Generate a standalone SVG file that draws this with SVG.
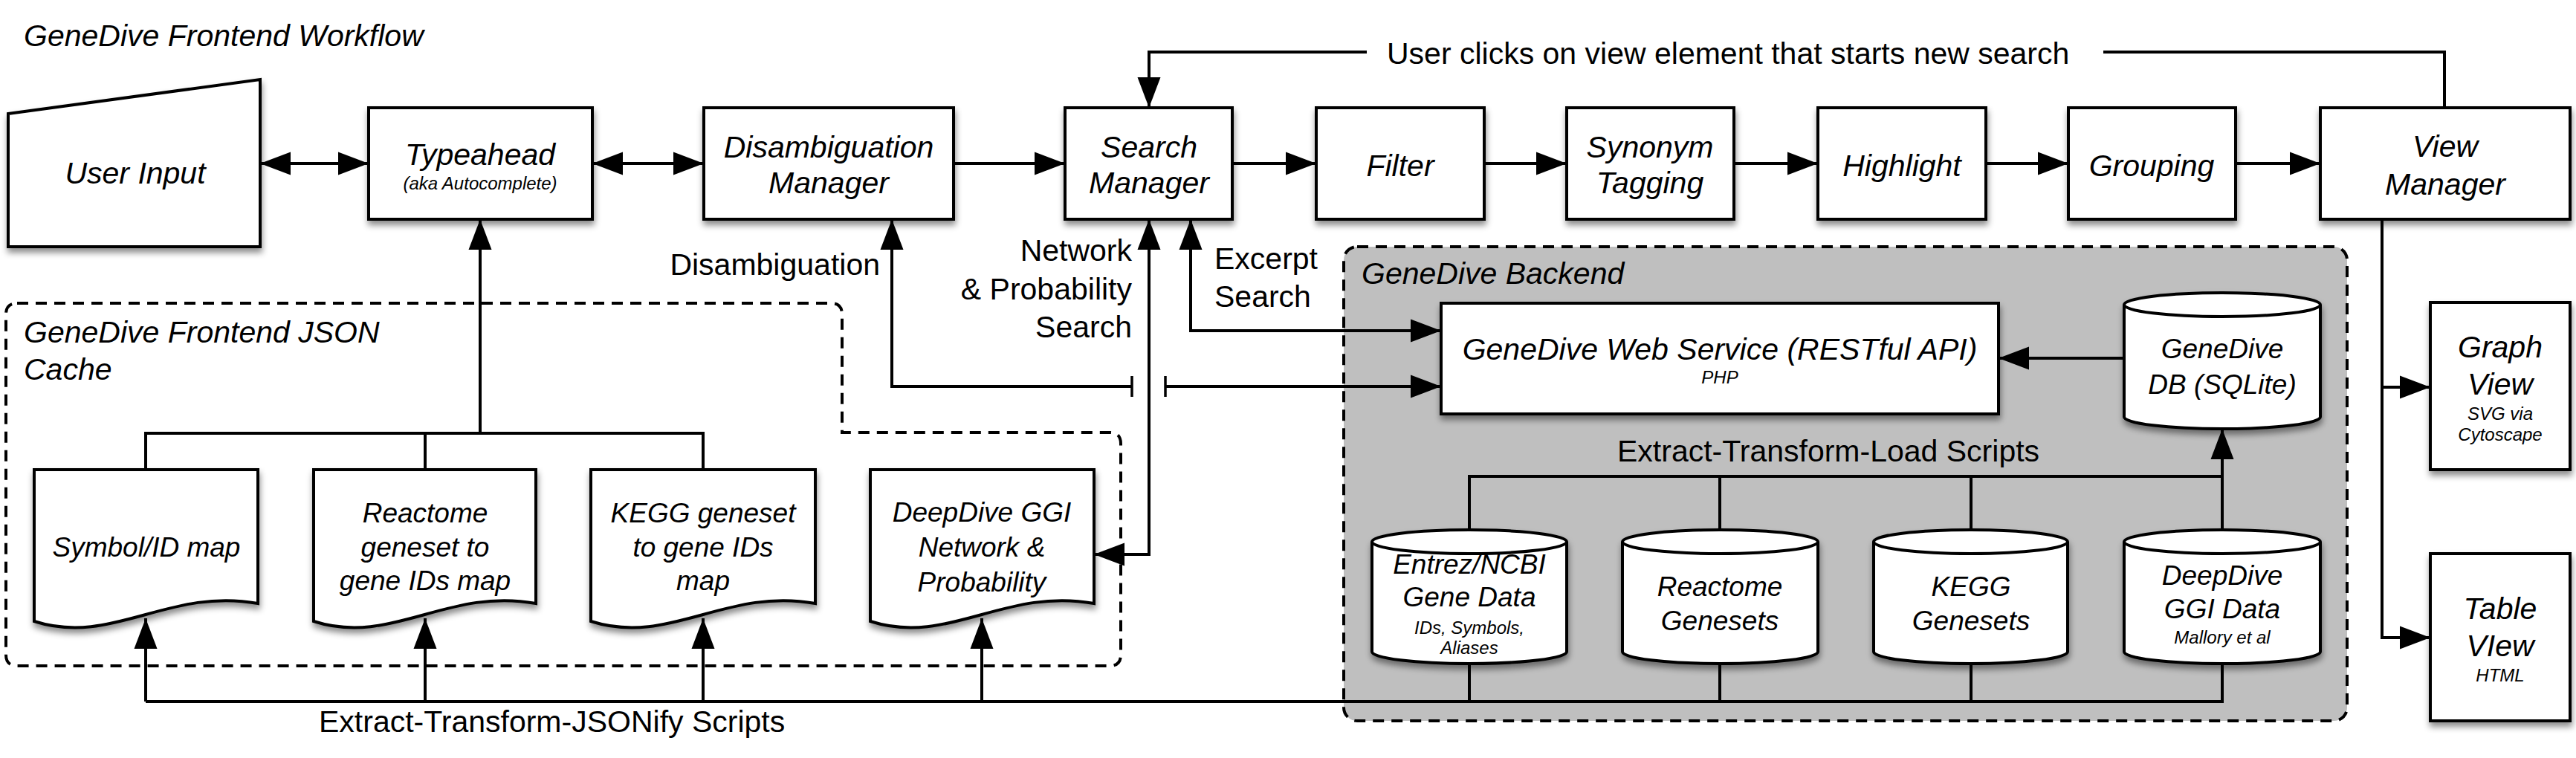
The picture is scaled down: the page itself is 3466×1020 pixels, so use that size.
<svg xmlns="http://www.w3.org/2000/svg" width="3466" height="1020" viewBox="0 0 3466 1020">
<defs>
<style>
.box{fill:#fff;stroke:#000;stroke-width:4;stroke-linejoin:miter}
.sh{filter:url(#sh)}
.t{font-family:"Liberation Sans",Arial,sans-serif;font-size:41px;fill:#000}
.i{font-style:italic}
.c{text-anchor:middle}
.r{text-anchor:end}
.d{font-size:37px}
.s{font-size:24px}
.conn{fill:none;stroke:#000;stroke-width:4}
.dash{fill:none;stroke:#000;stroke-width:4;stroke-dasharray:15 10}
</style>
<filter id="sh" x="-10%" y="-10%" width="130%" height="140%">
<feDropShadow dx="1" dy="6" stdDeviation="4" flood-color="#000" flood-opacity="0.45"/>
</filter>
<marker id="ah" markerUnits="userSpaceOnUse" markerWidth="42" markerHeight="32" viewBox="0 0 42 32" refX="41" refY="16" orient="auto-start-reverse">
<path d="M0,0.5 L41,16 L0,31.5 Z" fill="#000"/>
</marker>
<marker id="tee" markerUnits="userSpaceOnUse" markerWidth="6" markerHeight="28" viewBox="0 0 6 28" refX="3" refY="14" orient="auto">
<path d="M3,0 V28" stroke="#000" stroke-width="3.5"/>
</marker>
</defs>
<rect width="3466" height="1020" fill="#fff"/>

<text class="t i" x="32" y="62">GeneDive Frontend Workflow</text>

<g id="json-cache">
<path class="dash" d="M23,408 H1118 Q1133,408 1133,423 V582 H1493 Q1508,582 1508,597 V881 Q1508,896 1493,896 H23 Q8,896 8,881 V423 Q8,408 23,408 Z"/>
<text class="t i" x="32" y="461">GeneDive Frontend JSON</text>
<text class="t i" x="32" y="511">Cache</text>
</g>

<g id="backend">
<rect x="1808" y="332" width="1350" height="638" rx="18" fill="#bfbfbf" stroke="#000" stroke-width="4" stroke-dasharray="15 10"/>
<text class="t i" x="1832" y="382">GeneDive Backend</text>
</g>

<g id="connectors">
<path class="conn" d="M350,220 H496" marker-start="url(#ah)" marker-end="url(#ah)"/>
<path class="conn" d="M797,220 H947" marker-start="url(#ah)" marker-end="url(#ah)"/>
<path class="conn" d="M1283,220 H1433" marker-end="url(#ah)"/>
<path class="conn" d="M1658,220 H1771" marker-end="url(#ah)"/>
<path class="conn" d="M1997,220 H2108" marker-end="url(#ah)"/>
<path class="conn" d="M2333,220 H2446" marker-end="url(#ah)"/>
<path class="conn" d="M2672,220 H2783" marker-end="url(#ah)"/>
<path class="conn" d="M3008,220 H3122" marker-end="url(#ah)"/>
<path class="conn" d="M3289,145 V70 H2830"/>
<path class="conn" d="M1839,70 H1546 V145" marker-end="url(#ah)"/>
<path class="conn" d="M196,632 V583 H946 V632 M572,583 V632"/>
<path class="conn" d="M646,583 V295" marker-end="url(#ah)"/>
<path class="conn" d="M196,944 V832" marker-end="url(#ah)"/>
<path class="conn" d="M572,944 V832" marker-end="url(#ah)"/>
<path class="conn" d="M946,944 V832" marker-end="url(#ah)"/>
<path class="conn" d="M1321,944 V832" marker-end="url(#ah)"/>
<path class="conn" d="M196,944 H2990 V893 M1977,944 V893 M2314,944 V893 M2652,944 V893"/>
<path class="conn" d="M1523,520 H1200 V295" marker-start="url(#tee)" marker-end="url(#ah)"/>
<path class="conn" d="M1568,520 H1939" marker-start="url(#tee)" marker-end="url(#ah)"/>
<path class="conn" d="M1472,746 H1546 V295" marker-start="url(#ah)" marker-end="url(#ah)"/>
<path class="conn" d="M1602,295 V445 H1939" marker-start="url(#ah)" marker-end="url(#ah)"/>
<path class="conn" d="M2858,482 H2689" marker-end="url(#ah)"/>
<path class="conn" d="M1977,713 V641 H2990 M2314,641 V713 M2652,641 V713"/>
<path class="conn" d="M2990,713 V577" marker-end="url(#ah)"/>
<path class="conn" d="M3205,295 V858 H3270" marker-end="url(#ah)"/>
<path class="conn" d="M3205,521 H3270" marker-end="url(#ah)"/>
</g>

<g id="user-input">
<path class="box sh" d="M11,153 L350,107 V332 H11 Z"/>
<text class="t i c" x="182" y="247">User Input</text>
</g>
<g id="typeahead">
<rect class="box sh" x="496" y="145" width="301" height="150"/>
<text class="t i c" x="646" y="222">Typeahead</text>
<text class="t i c s" x="646" y="255">(aka Autocomplete)</text>
</g>
<g id="disambiguation-manager">
<rect class="box sh" x="947" y="145" width="336" height="150"/>
<text class="t i c" x="1115" y="212">Disambiguation</text>
<text class="t i c" x="1115" y="260">Manager</text>
</g>
<g id="search-manager">
<rect class="box sh" x="1433" y="145" width="225" height="150"/>
<text class="t i c" x="1546" y="212">Search</text>
<text class="t i c" x="1546" y="260">Manager</text>
</g>
<g id="filter">
<rect class="box sh" x="1771" y="145" width="226" height="150"/>
<text class="t i c" x="1884" y="237">Filter</text>
</g>
<g id="synonym-tagging">
<rect class="box sh" x="2108" y="145" width="225" height="150"/>
<text class="t i c" x="2220" y="212">Synonym</text>
<text class="t i c" x="2220" y="260">Tagging</text>
</g>
<g id="highlight">
<rect class="box sh" x="2446" y="145" width="226" height="150"/>
<text class="t i c" x="2559" y="237">Highlight</text>
</g>
<g id="grouping">
<rect class="box sh" x="2783" y="145" width="225" height="150"/>
<text class="t i c" x="2895" y="237">Grouping</text>
</g>
<g id="view-manager">
<rect class="box sh" x="3122" y="145" width="336" height="150"/>
<text class="t i c" x="3290" y="211">View</text>
<text class="t i c" x="3290" y="262">Manager</text>
</g>

<g id="feedback-label">
<text class="t" x="1866" y="86">User clicks on view element that starts new search</text>
</g>
<g id="edge-labels">
<text class="t r" x="1184" y="370">Disambiguation</text>
<text class="t r" x="1523" y="351">Network</text>
<text class="t r" x="1523" y="403">&amp; Probability</text>
<text class="t r" x="1523" y="454">Search</text>
<text class="t" x="1634" y="362">Excerpt</text>
<text class="t" x="1634" y="413">Search</text>
<text class="t" x="429" y="985">Extract-Transform-JSONify Scripts</text>
<text class="t" x="2176" y="621">Extract-Transform-Load Scripts</text>
</g>

<g id="symbol-id-map">
<path class="box sh" d="M46,632 H347 V812 C226,790 151,870 46,836 Z"/>
<text class="t i c d" x="197" y="749">Symbol/ID map</text>
</g>
<g id="reactome-map">
<path class="box sh" d="M422,632 H721 V812 C601,790 527,870 422,836 Z"/>
<text class="t i c d" x="572" y="703">Reactome</text>
<text class="t i c d" x="572" y="749">geneset to</text>
<text class="t i c d" x="572" y="794">gene IDs map</text>
</g>
<g id="kegg-map">
<path class="box sh" d="M795,632 H1097 V812 C976,790 901,870 795,836 Z"/>
<text class="t i c d" x="946" y="703">KEGG geneset</text>
<text class="t i c d" x="946" y="749">to gene IDs</text>
<text class="t i c d" x="946" y="794">map</text>
</g>
<g id="deepdive-network">
<path class="box sh" d="M1171,632 H1472 V812 C1351,790 1276,870 1171,836 Z"/>
<text class="t i c d" x="1321" y="702">DeepDive GGI</text>
<text class="t i c d" x="1321" y="749">Network &amp;</text>
<text class="t i c d" x="1321" y="796">Probability</text>
</g>

<g id="web-service">
<rect class="box sh" x="1939" y="408" width="750" height="149"/>
<text class="t i c" x="2314" y="484">GeneDive Web Service (RESTful API)</text>
<text class="t i c s" x="2314" y="516">PHP</text>
</g>
<g id="genedive-db">
<path class="box sh" d="M2858,410 A132,16 0 0 1 3122,410 V561 A132,16 0 0 1 2858,561 Z"/>
<path class="conn" d="M2858,410 A132,16 0 0 0 3122,410"/>
<text class="t i c d" x="2990" y="482">GeneDive</text>
<text class="t i c d" x="2990" y="530">DB (SQLite)</text>
</g>
<g id="entrez">
<path class="box sh" d="M1846,729 A131,16 0 0 1 2108,729 V877 A131,16 0 0 1 1846,877 Z"/>
<path class="conn" d="M1846,729 A131,16 0 0 0 2108,729"/>
<text class="t i c d" x="1977" y="772">Entrez/NCBI</text>
<text class="t i c d" x="1977" y="816">Gene Data</text>
<text class="t i c s" x="1977" y="853">IDs, Symbols,</text>
<text class="t i c s" x="1977" y="880">Aliases</text>
</g>
<g id="reactome-genesets">
<path class="box sh" d="M2183,729 A131.5,16 0 0 1 2446,729 V877 A131.5,16 0 0 1 2183,877 Z"/>
<path class="conn" d="M2183,729 A131.5,16 0 0 0 2446,729"/>
<text class="t i c d" x="2314" y="802">Reactome</text>
<text class="t i c d" x="2314" y="848">Genesets</text>
</g>
<g id="kegg-genesets">
<path class="box sh" d="M2521,729 A130.5,16 0 0 1 2782,729 V877 A130.5,16 0 0 1 2521,877 Z"/>
<path class="conn" d="M2521,729 A130.5,16 0 0 0 2782,729"/>
<text class="t i c d" x="2652" y="802">KEGG</text>
<text class="t i c d" x="2652" y="848">Genesets</text>
</g>
<g id="deepdive-ggi-data">
<path class="box sh" d="M2858,729 A132,16 0 0 1 3122,729 V877 A132,16 0 0 1 2858,877 Z"/>
<path class="conn" d="M2858,729 A132,16 0 0 0 3122,729"/>
<text class="t i c d" x="2990" y="787">DeepDive</text>
<text class="t i c d" x="2990" y="832">GGI Data</text>
<text class="t i c s" x="2990" y="866">Mallory et al</text>
</g>

<g id="graph-view">
<rect class="box sh" x="3270" y="407" width="188" height="225"/>
<text class="t i c" x="3364" y="481">Graph</text>
<text class="t i c" x="3364" y="531">View</text>
<text class="t i c s" x="3364" y="565">SVG via</text>
<text class="t i c s" x="3364" y="593">Cytoscape</text>
</g>
<g id="table-view">
<rect class="box sh" x="3270" y="745" width="188" height="225"/>
<text class="t i c" x="3364" y="833">Table</text>
<text class="t i c" x="3364" y="883">VIew</text>
<text class="t i c s" x="3364" y="917">HTML</text>
</g>
</svg>
